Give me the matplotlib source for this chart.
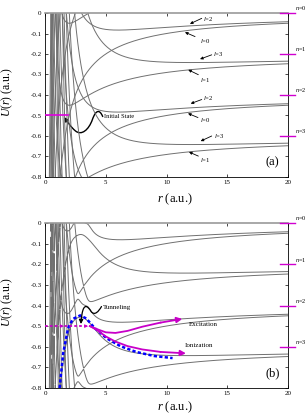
import numpy as np
import matplotlib
matplotlib.use("Agg")
import matplotlib.pyplot as plt
from matplotlib.path import Path
from matplotlib.patches import FancyArrowPatch

plt.rcParams['font.family'] = ['Liberation Serif', 'DejaVu Serif']
plt.rcParams['mathtext.fontset'] = 'custom'
plt.rcParams['mathtext.it'] = 'Liberation Serif:italic'
plt.rcParams['mathtext.rm'] = 'Liberation Serif'
plt.rcParams['axes.unicode_minus'] = False

# ---------------- data ----------------
omega = 0.2                              # spacing of the n = 0,1,2,3 markers (a.u.)
photon_numbers = list(range(-10, 13))    # dressed channels n
partial_waves = [0, 1, 2, 3]             # l
coupling = 0.035                         # half gap of avoided crossings in (b)
level_labels = [0, 1, 2, 3]
initial_energy = -0.5
initial_extent = 1.9

x_ticks = [0, 5, 10, 15, 20]
y_ticks = [0, -0.1, -0.2, -0.3, -0.4, -0.5, -0.6, -0.7, -0.8]
y_ticklabels = ['0', '-0.1', '-0.2', '-0.3', '-0.4', '-0.5', '-0.6', '-0.7', '-0.8']

# l labels of panel (a): label, text position, arrow tail, arrow head
l_label_text = ['2', '0', '3', '1', '2', '0', '3', '1']
l_label_pos = [(13.0, -0.029), (12.76, -0.136), (13.83, -0.201), (12.76, -0.325),
               (13.0, -0.417), (12.76, -0.522), (13.9, -0.600), (12.76, -0.718)]
l_arrow_tail = [(12.9, -0.026), (12.35, -0.115), (13.72, -0.204), (12.62, -0.301),
                (12.9, -0.422), (12.59, -0.510), (13.72, -0.600), (12.62, -0.698)]
l_arrow_head = [(11.93, -0.053), (11.52, -0.094), (12.76, -0.225), (11.79, -0.277),
                (11.99, -0.442), (11.77, -0.490), (12.81, -0.625), (11.85, -0.678)]

# panel (b) trajectories
blue_r = [1.2, 1.5, 1.9, 2.3, 2.9, 3.4, 4.1, 5.1, 6.2, 7.5, 9.0, 10.5]
blue_u = [-0.80, -0.63, -0.51, -0.465, -0.448, -0.463, -0.51, -0.56, -0.597, -0.625, -0.645, -0.655]
exc_r = [3.7, 4.3, 5.0, 5.8, 6.8, 8.0, 9.5, 11.3]
exc_u = [-0.50, -0.515, -0.530, -0.533, -0.523, -0.503, -0.483, -0.465]
ion_r = [3.7, 4.3, 5.0, 5.8, 6.8, 8.0, 9.5, 11.6]
ion_u = [-0.50, -0.52, -0.55, -0.575, -0.597, -0.613, -0.625, -0.632]
tunnel_start, tunnel_end = 0.0, 3.55

gray = '#707070'
mag = '#c800c8'

r_grid = np.linspace(0.04, 20.5, 3000)

channels = [(n, l) for n in photon_numbers for l in partial_waves if (n + l) % 2 == 0]


def diabatic(n, l, r):
    return -1.0 / r + l * (l + 1) / (2.0 * r ** 2) - n * omega


fig = plt.figure(figsize=(3.08, 4.16), dpi=100)
ax_a = fig.add_axes([45 / 308, 1 - 177 / 416, 243 / 308, 164 / 416])
ax_b = fig.add_axes([45 / 308, 1 - 388 / 416, 243 / 308, 165 / 416])

# panel (a): diabatic curves
for n, l in channels:
    ax_a.plot(r_grid, diabatic(n, l, r_grid), color=gray, lw=0.7)

# panel (b): adiabatic curves
N = len(channels)
H0 = np.array([diabatic(n, l, r_grid) for (n, l) in channels])  # N x R
V = np.zeros((N, N))
for i, (n1, l1) in enumerate(channels):
    for j, (n2, l2) in enumerate(channels):
        if abs(n1 - n2) == 1 and abs(l1 - l2) == 1:
            V[i, j] = coupling
eig = np.empty((len(r_grid), N))
idx = np.arange(N)
for k in range(0, len(r_grid), 500):
    sl = slice(k, min(k + 500, len(r_grid)))
    H = np.broadcast_to(V, (sl.stop - sl.start, N, N)).copy()
    H[:, idx, idx] = H0[:, sl].T
    eig[sl] = np.linalg.eigvalsh(H)
for k in range(N):
    ax_b.plot(r_grid, eig[:, k], color=gray, lw=0.7)

for ax, tag, ly in [(ax_a, '(a)', -0.09), (ax_b, '(b)', -0.072)]:
    ax.set_xlim(0, 20)
    ax.set_ylim(-0.8, 0)
    ax.set_xticks(x_ticks)
    ax.set_xticklabels([str(t) for t in x_ticks])
    ax.set_yticks(y_ticks)
    ax.set_yticklabels(y_ticklabels)
    ax.tick_params(direction='in', length=2.5, width=0.5, top=True, right=True,
                   labelsize=5, pad=2.5)
    for s in ax.spines.values():
        s.set_linewidth(0.6)
    ax.spines['top'].set_color('#9a9a9a')
    ax.spines['top'].set_linewidth(1.2)
    ax.set_xlabel('$r$ (a.u.)', fontsize=9)
    ax.xaxis.set_label_coords(0.535, ly)
    ax.set_ylabel('$U$($r$) (a.u.)', fontsize=8.5)
    ax.yaxis.set_label_coords(-0.125, 0.52)
    ax.text(18.7, -0.73, tag, fontsize=9, ha='center', va='center')
    for n in level_labels:
        ax.plot([19.35, 20.6], [-n * omega, -n * omega], color='#d000d0', lw=1.0,
                clip_on=False, zorder=5)
        ax.text(20.55, -n * omega + 0.003, '$n$=%d' % n, fontsize=4.5, ha='left',
                va='bottom', clip_on=False)

# panel (a) annotations
for t, p, a, h in zip(l_label_text, l_label_pos, l_arrow_tail, l_arrow_head):
    ax_a.text(p[0], p[1], '$l$=' + t, fontsize=4.8, ha='left', va='center')
    ax_a.annotate('', xy=h, xytext=a,
                  arrowprops=dict(arrowstyle='-|>', lw=0.6, color='k',
                                  mutation_scale=4, shrinkA=0, shrinkB=0))

ax_a.plot([0, initial_extent], [initial_energy, initial_energy], color='#e000e0',
          lw=1.2, zorder=6)
ax_a.text(4.85, -0.505, 'Initial State', fontsize=4.6, ha='left', va='center')
p_init = Path([(4.75, -0.505), (4.5, -0.47), (4.2, -0.47), (3.9, -0.52),
               (3.6, -0.57), (3.0, -0.60), (2.5, -0.575),
               (2.1, -0.555), (1.85, -0.53), (1.58, -0.508)],
              [Path.MOVETO] + [Path.CURVE4] * 9)
ax_a.add_patch(FancyArrowPatch(path=p_init, arrowstyle='-|>', mutation_scale=6,
                               lw=1.0, color='k'))

# panel (b) annotations
ax_b.plot(blue_r, blue_u, color='#0000ff', lw=1.8, ls=(0, (1.3, 0.9)), zorder=4)
ax_b.plot([tunnel_start, tunnel_end], [initial_energy, initial_energy], color=mag,
          lw=1.3, ls=(0, (1.5, 1.2)), zorder=5)
for xh in [1.55, tunnel_end]:
    ax_b.annotate('', xy=(xh, initial_energy), xytext=(xh - 0.5, initial_energy),
                  arrowprops=dict(arrowstyle='-|>', lw=0, color=mag,
                                  mutation_scale=7, shrinkA=0, shrinkB=0), zorder=6)
for rr, uu in [(exc_r, exc_u), (ion_r, ion_u)]:
    ax_b.plot(rr[:-1], uu[:-1], color=mag, lw=1.3, zorder=5)
    ax_b.annotate('', xy=(rr[-1], uu[-1]), xytext=(rr[-2], uu[-2]),
                  arrowprops=dict(arrowstyle='-|>', lw=1.3, color=mag,
                                  mutation_scale=8, shrinkA=0, shrinkB=0), zorder=6)
ax_b.text(11.85, -0.49, 'Excitation', fontsize=5, ha='left', va='center')
ax_b.text(11.5, -0.595, 'Ionization', fontsize=5, ha='left', va='center')
ax_b.text(4.75, -0.41, 'Tunneling', fontsize=5, ha='left', va='center')
p_tun = Path([(4.65, -0.405), (4.4, -0.43), (4.1, -0.45), (3.8, -0.43),
              (3.5, -0.40), (3.2, -0.39), (3.05, -0.44),
              (3.0, -0.46), (2.97, -0.47), (2.96, -0.49)],
             [Path.MOVETO] + [Path.CURVE4] * 9)
ax_b.add_patch(FancyArrowPatch(path=p_tun, arrowstyle='-|>', mutation_scale=6,
                               lw=0.9, color='k', zorder=7))

fig.savefig('out.png', dpi=100)
